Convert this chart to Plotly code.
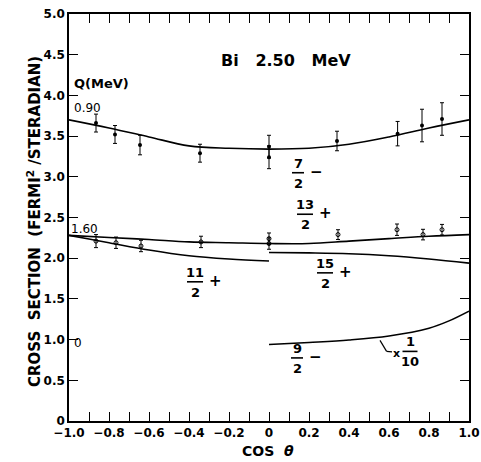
import plotly.graph_objects as go

# ---------------- data ----------------
# Q = 0.90 MeV group (filled points)
cos_q090 = [-0.865, -0.77, -0.645, -0.345, 0.0, 0.0, 0.34, 0.643, 0.765, 0.865]
sig_q090 = [3.66, 3.52, 3.39, 3.29, 3.37, 3.24, 3.44, 3.53, 3.63, 3.71]
err_q090 = [0.11, 0.11, 0.12, 0.11, 0.14, 0.14, 0.12, 0.15, 0.20, 0.20]

# Q = 1.60 MeV group (open points)
cos_q160 = [-0.865, -0.765, -0.64, -0.34, 0.0, 0.0, 0.345, 0.64, 0.77, 0.865]
sig_q160 = [2.21, 2.19, 2.15, 2.20, 2.24, 2.18, 2.29, 2.35, 2.29, 2.35]
err_q160 = [0.08, 0.07, 0.07, 0.07, 0.07, 0.07, 0.06, 0.07, 0.065, 0.065]

# theoretical curves
cos_72 = [-1.0, -0.8, -0.6, -0.4, -0.2, 0.0, 0.2, 0.4, 0.6, 0.8, 1.0]
sig_72 = [3.70, 3.60, 3.49, 3.38, 3.35, 3.34, 3.35, 3.40, 3.49, 3.60, 3.70]

cos_132 = [-1.0, -0.8, -0.6, -0.4, -0.2, 0.0, 0.2, 0.4, 0.6, 0.8, 1.0]
sig_132 = [2.28, 2.255, 2.23, 2.20, 2.19, 2.18, 2.18, 2.21, 2.24, 2.27, 2.29]

cos_112 = [-1.0, -0.9, -0.8, -0.6, -0.4, -0.2, 0.0]
sig_112 = [2.28, 2.235, 2.19, 2.10, 2.03, 1.99, 1.965]

cos_152 = [0.0, 0.2, 0.4, 0.6, 0.8, 1.0]
sig_152 = [2.07, 2.065, 2.055, 2.03, 1.99, 1.94]

cos_92 = [0.0, 0.2, 0.4, 0.6, 0.8, 0.9, 1.0]
sig_92 = [0.94, 0.965, 0.995, 1.045, 1.14, 1.23, 1.35]

x_tickvals = [round(-1.0 + 0.1 * i, 1) for i in range(21)]
x_ticktext = ["\u22121.0", "", "\u22120.8", "", "\u22120.6", "", "\u22120.4", "", "\u22120.2", "",
              "0", "", "0.2", "", "0.4", "", "0.6", "", "0.8", "", "1.0"]
y_tickvals = [0, 0.5, 1.0, 1.5, 2.0, 2.5, 3.0, 3.5, 4.0, 4.5, 5.0]
y_ticktext = ["0", "0.5", "1.0", "1.5", "2.0", "2.5", "3.0", "3.5", "4.0", "4.5", "5.0"]

FONT = "DejaVu Sans"
LW = 1.6
W, H = 481, 462
ML, MR, MT, MB = 69, 12, 14, 41
PW, PH = W - ML - MR, H - MT - MB

fig = go.Figure()

for xs, ys in [(cos_72, sig_72), (cos_132, sig_132), (cos_112, sig_112),
               (cos_152, sig_152), (cos_92, sig_92)]:
    fig.add_trace(go.Scatter(x=xs, y=ys, mode="lines", line=dict(color="black", width=LW, shape="spline"),
                             showlegend=False, hoverinfo="skip"))

fig.add_trace(go.Scatter(
    x=cos_q090, y=sig_q090, mode="markers",
    marker=dict(symbol="circle", size=4, color="black"),
    error_y=dict(type="data", array=err_q090, color="black", thickness=1, width=2),
    showlegend=False))
fig.add_trace(go.Scatter(
    x=cos_q160, y=sig_q160, mode="markers",
    marker=dict(symbol="circle-open", size=4, color="black", line=dict(width=1)),
    error_y=dict(type="data", array=err_q160, color="black", thickness=1, width=2),
    showlegend=False))

annotations = []
shapes = []


def txt(x, y, s, size=13, bold=True, xanchor="center", yanchor="middle", xref="x", yref="y", **kw):
    annotations.append(dict(x=x, y=y, xref=xref, yref=yref, text=s, showarrow=False,
                            xanchor=xanchor, yanchor=yanchor,
                            font=dict(family=FONT, size=size, color="black",
                                      weight="bold" if bold else "normal"), **kw))


def ptxt(px, py, s, **kw):
    # place text at a pixel position of the page
    txt((px - ML) / PW, (H - MB - py) / PH, s, xref="paper", yref="paper", **kw)


def frac(x, y, num, den, sign=None, wpx=12):
    # x, y: data coordinates of the fraction bar centre
    w = wpx / 200.0
    shapes.append(dict(type="line", xref="x", yref="y", x0=x - w / 2, x1=x + w / 2, y0=y, y1=y,
                       line=dict(color="black", width=1.6)))
    txt(x, y, num, size=13, yanchor="bottom", yshift=0)
    txt(x, y, den, size=13, yanchor="top", yshift=-1)
    if sign:
        txt(x + w / 2 + 0.02, y, sign, size=15, xanchor="left", yshift=1)


frac(0.145, 3.05, "7", "2", "\u2212")
frac(0.18, 2.54, "13", "2", "+", wpx=16)
frac(-0.37, 1.71, "11", "2", "+", wpx=16)
frac(0.28, 1.82, "15", "2", "+", wpx=16)
frac(0.14, 0.775, "9", "2", "\u2212")
frac(0.705, 0.855, "1", "10", None, wpx=15)
txt(0.637, 0.835, "x", size=11)
shapes.append(dict(type="line", xref="x", yref="y", x0=0.555, y0=0.99, x1=0.588, y1=0.855,
                   line=dict(color="black", width=1.2)))
shapes.append(dict(type="line", xref="x", yref="y", x0=0.588, y0=0.855, x1=0.615, y1=0.85,
                   line=dict(color="black", width=1.2)))

ptxt(286, 60, "Bi   2.50   MeV", size=16)
ptxt(72, 83, "Q(MeV)", size=13, xanchor="left")
ptxt(72, 108, "0.90", size=12, bold=False, xanchor="left")
ptxt(69, 229, "1.60", size=12, bold=False, xanchor="left")
ptxt(78, 343, "0", size=12, bold=False)
ptxt(34, 222, "CROSS  SECTION  (FERMI<sup>2</sup> /STERADIAN)", size=15, textangle=-90)
ptxt(268, 451, "COS  <i>\u03b8</i>", size=14)

fig.update_layout(
    width=W, height=H,
    margin=dict(l=ML, r=MR, t=MT, b=MB, autoexpand=False),
    paper_bgcolor="white", plot_bgcolor="white",
    showlegend=False,
    annotations=annotations,
    shapes=shapes,
    xaxis=dict(range=[-1.0, 1.0], tickvals=x_tickvals, ticktext=x_ticktext,
               ticks="inside", ticklen=9, tickwidth=1.2, tickcolor="black",
               showline=True, linecolor="black", linewidth=1.6, mirror="ticks",
               showgrid=False, zeroline=False, automargin=False,
               tickfont=dict(family=FONT, size=12, color="black", weight="bold")),
    yaxis=dict(range=[0, 5.0], tickvals=y_tickvals, ticktext=y_ticktext,
               ticks="inside", ticklen=9, tickwidth=1.2, tickcolor="black",
               showline=True, linecolor="black", linewidth=1.6, mirror="ticks",
               showgrid=False, zeroline=False, automargin=False,
               tickfont=dict(family=FONT, size=12, color="black", weight="bold")),
)

fig.write_html("out.html")
